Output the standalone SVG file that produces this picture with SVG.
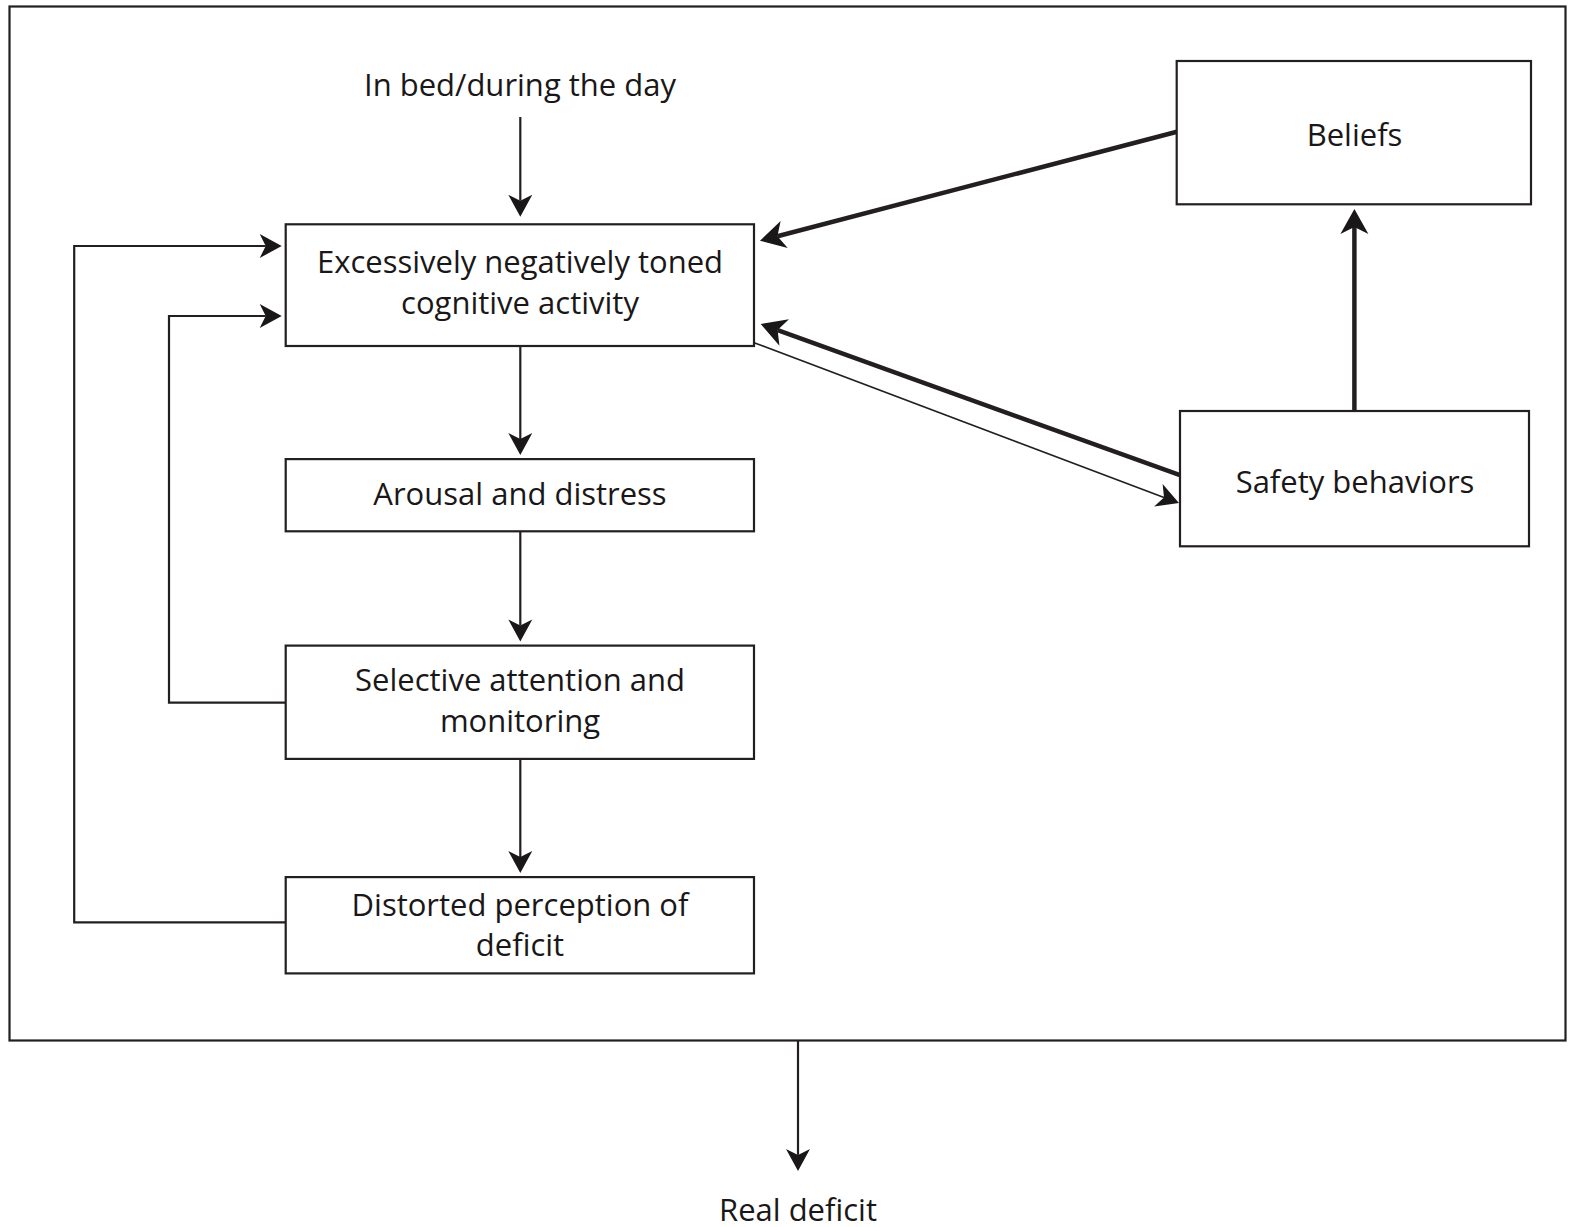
<svg xmlns="http://www.w3.org/2000/svg" width="1572" height="1227" viewBox="0 0 1572 1227">
<style>
.box{fill:#fff;stroke:#231f20;stroke-width:2.2}
.t{font-family:"Open Sans","Noto Sans",sans-serif;font-size:31px;fill:#1a1718;text-anchor:middle}
.c{fill:none;stroke:#231f20;stroke-width:2.2;marker-end:url(#ah)}
.ck{fill:none;stroke:#231f20;stroke-width:4.5;marker-end:url(#ahk)}
.cn{fill:none;stroke:#231f20;stroke-width:1.6;marker-end:url(#ah)}
</style>
<defs>
<marker id="ah" markerUnits="userSpaceOnUse" viewBox="-10 -14 28 28" refX="0" refY="0" markerWidth="28" markerHeight="28" orient="auto" overflow="visible">
<path d="M16,0 L-6,-12 L0,0 L-6,12 Z" fill="#1a1718"/>
</marker>
<marker id="ahk" markerUnits="userSpaceOnUse" viewBox="-10 -16 30 32" refX="0" refY="0" markerWidth="30" markerHeight="32" orient="auto" overflow="visible">
<path d="M18,0 L-7,-14 L0,0 L-7,14 Z" fill="#1a1718"/>
</marker>
</defs>
<rect width="1572" height="1227" fill="#fff"/>
<rect id="frame" x="9.5" y="6.5" width="1556" height="1034" fill="none" stroke="#231f20" stroke-width="2.2"/>
<g id="connectors">
<path class="c" d="M520.3,117 V200.7"/>
<path class="c" d="M520.3,346 V439.1"/>
<path class="c" d="M520.3,531.3 V625.6"/>
<path class="c" d="M520.3,758.9 V857.1"/>
<path class="c" d="M285.7,702.7 H169 V316 H265.7"/>
<path class="c" d="M285.7,922.3 H74.2 V246 H265.7"/>
<path class="ck" d="M1177,131.7 L777.4,236.2"/>
<path class="ck" d="M1180,475.2 L777.6,330.1"/>
<path class="cn" d="M754,342.7 L1164,497.4"/>
<path class="ck" d="M1354.4,411 V227"/>
<path class="c" d="M798,1040.5 V1154.9"/>
</g>
<g id="in-bed"><text class="t" x="520" y="95.5">In bed/during the day</text></g>
<g id="cognitive">
<rect class="box" x="285.7" y="224.3" width="468.3" height="121.7"/>
<text class="t" x="520" y="273">Excessively negatively toned</text>
<text class="t" x="520" y="314">cognitive activity</text>
</g>
<g id="arousal">
<rect class="box" x="285.7" y="459.1" width="468.3" height="72.2"/>
<text class="t" x="520" y="504.5">Arousal and distress</text>
</g>
<g id="selective">
<rect class="box" x="285.7" y="645.6" width="468.3" height="113.3"/>
<text class="t" x="520" y="691">Selective attention and</text>
<text class="t" x="520" y="732">monitoring</text>
</g>
<g id="distorted">
<rect class="box" x="285.7" y="877.1" width="468.3" height="96.3"/>
<text class="t" x="520" y="915.5">Distorted perception of</text>
<text class="t" x="520" y="955.5">deficit</text>
</g>
<g id="beliefs">
<rect class="box" x="1176.7" y="61" width="354.3" height="143.3"/>
<text class="t" x="1354.5" y="145.7">Beliefs</text>
</g>
<g id="safety">
<rect class="box" x="1180" y="411" width="349" height="135.3"/>
<text class="t" x="1355" y="493">Safety behaviors</text>
</g>
<g id="real-deficit"><text class="t" x="798" y="1221">Real deficit</text></g>
</svg>
